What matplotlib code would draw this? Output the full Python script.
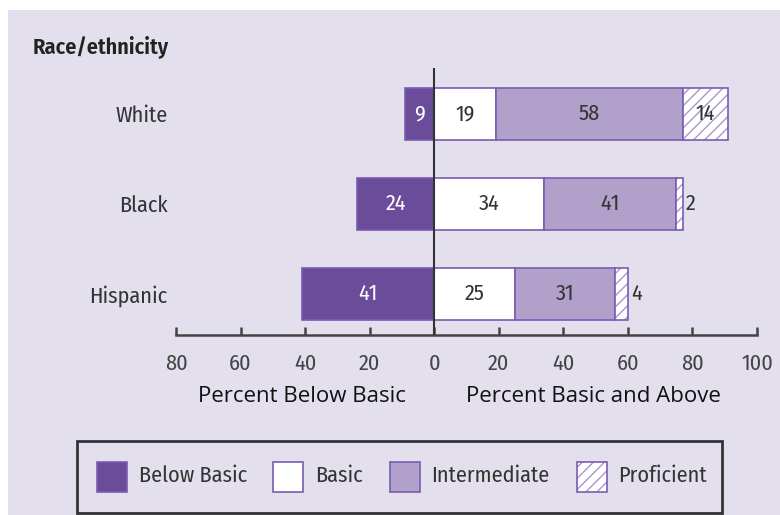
import matplotlib
matplotlib.use("Agg")
import matplotlib.pyplot as plt
from matplotlib.patches import Rectangle

# Data
groups = ["White", "Black", "Hispanic"]
below_basic = [9, 24, 41]
basic = [19, 34, 25]
intermediate = [58, 41, 31]
proficient = [14, 2, 4]
tick_values = [-80, -60, -40, -20, 0, 20, 40, 60, 80, 100]
legend_labels = ["Below Basic", "Basic", "Intermediate", "Proficient"]

W, H = 780, 515
BG = "#e4dfec"
DARK = "#6a4c9a"
LIGHT = "#b0a0ca"
EDGE = "#7a5cb2"
HATCH = "#a896d0"
TXT = "#333333"
NARROW = ["Fira Sans Condensed", "Roboto Condensed", "DejaVu Sans"]
REG = ["Open Sans", "DejaVu Sans"]

plt.rcParams["hatch.linewidth"] = 1.0

fig = plt.figure(figsize=(W / 100, H / 100), dpi=100, facecolor="white")


def fx(px):
    return px / W


def fy(py):
    return 1 - py / H


# lavender panel behind everything
fig.patches.append(Rectangle((fx(8), 0), 1 - fx(8), fy(10), transform=fig.transFigure,
                             facecolor=BG, edgecolor="none", zorder=-5))

ax = fig.add_axes([fx(176), fy(335), fx(757) - fx(176), fy(68) - fy(335)])
ax.patch.set_alpha(0)
ax.set_zorder(2)
ax.set_xlim(-80, 100)
ax.set_ylim(2.456, -0.51)

ypos = list(range(len(groups)))
h = 0.58
ax.barh(ypos, [-v for v in below_basic], height=h, color=DARK, edgecolor=EDGE, linewidth=1.2, zorder=2)
ax.barh(ypos, basic, height=h, color="white", edgecolor=EDGE, linewidth=1.2, zorder=2)
ax.barh(ypos, intermediate, left=basic, height=h, color=LIGHT, edgecolor=EDGE, linewidth=1.2, zorder=2)
left_p = [b + i for b, i in zip(basic, intermediate)]
# hatched fill in a lighter purple, then a solid outline on top
ax.barh(ypos, proficient, left=left_p, height=h, color="white", edgecolor=HATCH,
        hatch="///", linewidth=0, zorder=2)
ax.barh(ypos, proficient, left=left_p, height=h, color="none", edgecolor=EDGE,
        linewidth=1.2, zorder=2.1)

fs = 16
for y, bb, b, i, p, lp in zip(ypos, below_basic, basic, intermediate, proficient, left_p):
    ax.text(-bb / 2, y, str(bb), ha="center", va="center", color="white", fontsize=fs, family=NARROW, zorder=3)
    ax.text(b / 2, y, str(b), ha="center", va="center", color=TXT, fontsize=fs, family=NARROW, zorder=3)
    ax.text(b + i / 2, y, str(i), ha="center", va="center", color=TXT, fontsize=fs, family=NARROW, zorder=3)
    if p >= 8:
        ax.text(lp + p / 2, y, str(p), ha="center", va="center", color=TXT, fontsize=fs, family=NARROW, zorder=3)
    else:
        ax.text(lp + p + 1.0, y, str(p), ha="left", va="center", color=TXT, fontsize=fs, family=NARROW, zorder=3)

# center line
ax.axvline(0, color="#333333", linewidth=1.5, zorder=4)

for s in ["top", "right", "left"]:
    ax.spines[s].set_visible(False)
ax.spines["bottom"].set_color("#444444")
ax.spines["bottom"].set_linewidth(1.8)
ax.set_xticks(tick_values)
ax.set_xticklabels([str(abs(v)) for v in tick_values], family=NARROW, fontsize=fs, color="#444444")
ax.tick_params(axis="x", direction="in", length=6, width=1.8, color="#444444", pad=13)
ax.set_yticks(ypos)
ax.set_yticklabels(groups, family=NARROW, fontsize=fs, color=TXT)
ax.tick_params(axis="y", length=0, pad=6)

fig.text(fx(33), fy(47), "Race/ethnicity", ha="left", va="center", fontsize=16, weight="semibold",
         family=NARROW, color="#222222")
fig.text(fx(302), fy(397), "Percent Below Basic", ha="center", va="center", fontsize=16, family=REG, color="#111111")
fig.text(fx(593), fy(397), "Percent Basic and Above", ha="center", va="center", fontsize=16, family=REG, color="#111111")

# legend box
fig.patches.append(Rectangle((fx(77), fy(513)), fx(722) - fx(77), fy(441) - fy(513), transform=fig.transFigure,
                             facecolor="none", edgecolor="#333333", linewidth=2, zorder=1))
swatch_x = [97, 273, 390, 577]
text_x = [139, 315, 431, 618]
fills = [DARK, "white", LIGHT, "white"]
for k, (x0, tx, lab, fc) in enumerate(zip(swatch_x, text_x, legend_labels, fills)):
    box = (fx(x0), fy(492))
    bw, bh = fx(30), fy(462) - fy(492)
    if k == 3:
        fig.patches.append(Rectangle(box, bw, bh, transform=fig.transFigure, facecolor=fc,
                                     edgecolor=HATCH, hatch="///", linewidth=0, zorder=2))
        fig.patches.append(Rectangle(box, bw, bh, transform=fig.transFigure, facecolor="none",
                                     edgecolor=EDGE, linewidth=1.2, zorder=2.1))
    else:
        fig.patches.append(Rectangle(box, bw, bh, transform=fig.transFigure, facecolor=fc,
                                     edgecolor=EDGE, linewidth=1.2, zorder=2))
    fig.text(fx(tx), fy(476), lab, ha="left", va="center", fontsize=fs, family=NARROW, color=TXT)

fig.savefig("out.png", dpi=100, facecolor="white")
